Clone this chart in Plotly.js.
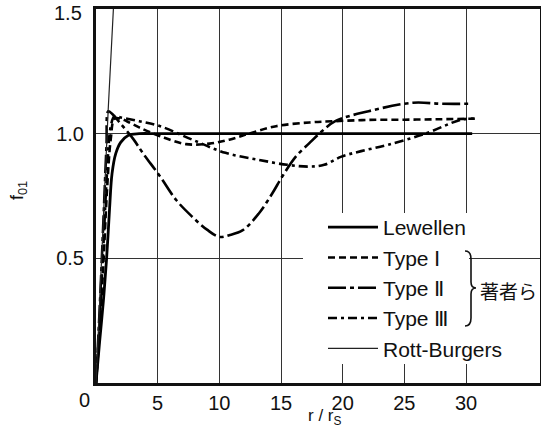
<!DOCTYPE html>
<html>
<head>
<meta charset="utf-8">
<script src="https://cdn.plot.ly/plotly-3.0.1.min.js"></script>
<style>html,body{margin:0;padding:0;background:#fff;}#chart{width:541px;height:430px;}</style>
</head>
<body>
<div id="chart"></div>
<script>
// ---- data ----
const seriesNames = ["Lewellen", "Type Ⅰ", "Type Ⅱ", "Type Ⅲ", "Rott-Burgers"];

const lewellenX = [0, 0.3, 0.6, 0.86, 1.1, 1.3, 1.6, 2.0, 2.6, 3.5, 5, 10, 20, 30.5];
const lewellenY = [0, 0.17, 0.33, 0.5, 0.7, 0.84, 0.92, 0.965, 0.993, 1.0, 1.0, 1.0, 1.0, 1.0];

const type1X = [0, 0.3, 0.6, 0.9, 1.2, 1.5, 2.0, 2.5, 3.5, 5.2, 7.3, 9.2, 10.8, 12.4, 14.6, 17.3, 19.3, 22, 25, 28, 30.7];
const type1Y = [0, 0.22, 0.48, 0.78, 0.98, 1.06, 1.06, 1.05, 1.025, 0.99, 0.958, 0.96, 0.976, 1.0, 1.03, 1.045, 1.05, 1.055, 1.056, 1.058, 1.06];

const type2X = [0, 0.3, 0.6, 0.85, 1.0, 1.3, 2.0, 3.0, 3.8, 5.2, 6.5, 7.8, 9.0, 10.0, 10.8, 11.9, 13.2, 14.3, 15.1, 16.2, 17.3, 18.1, 19.4, 22.1, 25.7, 28, 30.5];
const type2Y = [0, 0.3, 0.65, 0.95, 1.09, 1.08, 1.04, 0.98, 0.922, 0.828, 0.734, 0.667, 0.615, 0.586, 0.593, 0.613, 0.68, 0.761, 0.828, 0.908, 0.962, 1.0, 1.05, 1.09, 1.124, 1.12, 1.12];

const type3X = [0, 0.3, 0.6, 0.9, 1.2, 1.5, 2.0, 3.5, 5.2, 7.8, 10.5, 13.2, 15.5, 17.3, 18.5, 19.9, 21.5, 23.7, 26.7, 29.6, 30.7];
const type3Y = [0, 0.25, 0.55, 0.85, 1.03, 1.07, 1.065, 1.05, 1.03, 0.976, 0.923, 0.895, 0.875, 0.868, 0.875, 0.908, 0.93, 0.956, 1.0, 1.056, 1.06];

const rottX = [0, 0.5, 0.99, 1.41];
const rottY = [0, 0.55, 1.097, 1.5];

const xTickVals = [5, 10, 15, 20, 25, 30];
const yTickVals = [0.5, 1.0];
const yTickText = ["0.5", "1.0"];
const yTopLabel = "1.5";   // label of the top of the y range (1.5)

// ---- chart ----
const W = 541, H = 430;
const M = {l: 96, r: 1, t: 9, b: 47};
const pw = W - M.l - M.r, ph = H - M.t - M.b;
const px2x = p => (p - M.l) / pw;       // pixel -> paper x
const py2y = p => (H - M.b - p) / ph;   // pixel -> paper y

const FONT = "Liberation Sans, Arial, sans-serif";

const traces = [
  {x: lewellenX, y: lewellenY, name: seriesNames[0], mode: "lines", line: {color: "#000", width: 2.8, shape: "spline"}},
  {x: type1X, y: type1Y, name: seriesNames[1], mode: "lines", line: {color: "#000", width: 2.6, dash: "7px,4px", shape: "spline"}},
  {x: type2X, y: type2Y, name: seriesNames[2], mode: "lines", line: {color: "#000", width: 2.6, dash: "18px,4px,4px,4px", shape: "spline"}},
  {x: type3X, y: type3Y, name: seriesNames[3], mode: "lines", line: {color: "#000", width: 2.6, dash: "9px,4px,3px,4px", shape: "spline"}},
  {x: rottX, y: rottY, name: seriesNames[4], mode: "lines", line: {color: "#222", width: 1.2, shape: "spline"}}
];

const layout = {
  width: W, height: H,
  margin: M,
  paper_bgcolor: "#fff", plot_bgcolor: "#fff",
  showlegend: true,
  legend: {
    x: px2x(323), y: py2y(207), xanchor: "left", yanchor: "top",
    bgcolor: "rgba(0,0,0,0)", borderwidth: 0,
    font: {family: FONT, size: 21, color: "#111"},
    itemwidth: 50, tracegroupgap: 0
  },
  xaxis: {
    range: [0, 36], tickvals: xTickVals, ticks: "", ticklen: 0,
    showgrid: true, gridcolor: "#333", gridwidth: 1,
    showline: true, linecolor: "#111", linewidth: 3, mirror: true,
    zeroline: false,
    tickfont: {family: FONT, size: 20, color: "#111"},
    ticklabelstandoff: 0
  },
  yaxis: {
    range: [0, 1.5], tickvals: yTickVals, ticktext: yTickText, ticks: "", ticklen: 0,
    showgrid: true, gridcolor: "#333", gridwidth: 1,
    showline: true, linecolor: "#111", linewidth: 3, mirror: true,
    zeroline: false,
    tickfont: {family: FONT, size: 20, color: "#111"},
    ticklabelstandoff: 5
  },
  annotations: [
    {xref: "paper", y: 1.5, yref: "y", x: px2x(84), text: yTopLabel, showarrow: false, yshift: -4,
     font: {family: FONT, size: 20, color: "#111"}, xanchor: "right", yanchor: "middle"},
    {xref: "paper", yref: "paper", x: px2x(84), y: py2y(400), text: "0", showarrow: false,
     font: {family: FONT, size: 20, color: "#111"}, xanchor: "center", yanchor: "middle"},
    {xref: "paper", yref: "paper", x: px2x(325), y: py2y(417), text: "r / r<sub>S</sub>", showarrow: false,
     font: {family: FONT, size: 17, color: "#111"}, xanchor: "center", yanchor: "middle"},
    {xref: "paper", yref: "paper", x: px2x(19), y: py2y(191), text: "f<sub>01</sub>", showarrow: false, textangle: -90,
     font: {family: FONT, size: 18, color: "#111"}, xanchor: "center", yanchor: "middle"},
    {xref: "paper", yref: "paper", x: px2x(478), y: py2y(290), text: "著者ら", showarrow: false,
     font: {family: "Noto Sans CJK JP", size: 19, color: "#111"}, xanchor: "left", yanchor: "middle"}
  ],
  shapes: [
    {type: "rect", xref: "paper", yref: "paper", layer: "above",
     x0: px2x(303), x1: px2x(469), y0: py2y(364), y1: py2y(213),
     fillcolor: "#fff", line: {width: 0}},
    {type: "path", xref: "paper", yref: "paper", layer: "above",
     path: "M" + px2x(465) + "," + py2y(251) + " Q" + px2x(471) + "," + py2y(251) + " " + px2x(471) + "," + py2y(259) +
           " L" + px2x(471) + "," + py2y(282) + " Q" + px2x(471) + "," + py2y(288) + " " + px2x(476) + "," + py2y(288) +
           " Q" + px2x(471) + "," + py2y(288) + " " + px2x(471) + "," + py2y(294) +
           " L" + px2x(471) + "," + py2y(318) + " Q" + px2x(471) + "," + py2y(326) + " " + px2x(465) + "," + py2y(326),
     line: {color: "#111", width: 1.6}}
  ]
};

Plotly.newPlot("chart", traces, layout, {displayModeBar: false, staticPlot: true});
</script>
</body>
</html>
